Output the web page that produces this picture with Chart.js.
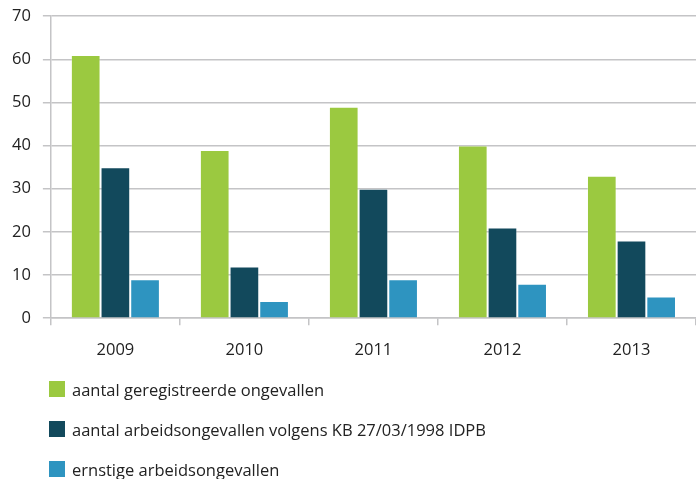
<!DOCTYPE html>
<html>
<head>
<meta charset="utf-8">
<script src="https://cdn.jsdelivr.net/npm/chart.js@4"></script>
<style>
  body { margin: 0; background: #fff; font-family: "Open Sans", sans-serif; }
  #wrap { position: relative; width: 696px; height: 375px; }
  #legend { margin: 0; padding: 0; list-style: none; position: absolute; left: 49px; top: 369px; }
  #legend li { height: 40px; display: flex; align-items: center; font-size: 16.5px; color: #222; }
  #legend span.box { display: inline-block; width: 16px; height: 16px; margin-right: 7px; }
</style>
</head>
<body>
<div id="wrap"><canvas id="chart"></canvas></div>
<ul id="legend"></ul>
<script>
const years = ["2009", "2010", "2011", "2012", "2013"];
const geregistreerd = [61, 39, 49, 40, 33];
const volgensKB = [35, 12, 30, 21, 18];
const ernstig = [9, 4, 9, 8, 5];
const yTicks = [0, 10, 20, 30, 40, 50, 60, 70];

const names = [
    "aantal geregistreerde ongevallen",
    "aantal arbeidsongevallen volgens KB 27/03/1998 IDPB",
    "ernstige arbeidsongevallen"
];
const colors = ["#9bc940", "#12495c", "#2e94c0"];
const series = [geregistreerd, volgensKB, ernstig];

const gridColor = "#c4c4c6";

const chart = new Chart(document.getElementById("chart"), {
    type: "bar",
    data: {
        labels: years,
        datasets: series.map((vals, i) => ({
            label: names[i],
            data: vals,
            backgroundColor: colors[i],
            borderColor: "rgba(255,255,255,0.25)",
            borderWidth: 1,
            barPercentage: 1,
            categoryPercentage: 0.69
        }))
    },
    options: {
        responsive: true,
        maintainAspectRatio: false,
        animation: false,
        layout: { padding: { top: 0, left: 0, right: 0, bottom: 0 } },
        plugins: {
            legend: { display: false },
            tooltip: { enabled: false }
        },
        scales: {
            x: {
                grid: {
                    offset: true,
                    drawOnChartArea: false,
                    drawTicks: true,
                    tickLength: 7,
                    color: gridColor,
                    lineWidth: 1.5
                },
                border: { color: gridColor, width: 1.5 },
                ticks: {
                    color: "#222",
                    padding: 15,
                    font: { family: "Open Sans", size: 16.5 }
                }
            },
            y: {
                min: 0,
                max: 70,
                afterBuildTicks: axis => {
                    axis.ticks = yTicks.map(v => ({ value: v }));
                },
                grid: {
                    color: gridColor,
                    lineWidth: 1.5,
                    tickLength: 8
                },
                border: { color: gridColor, width: 1.5 },
                ticks: {
                    color: "#222",
                    padding: 12,
                    font: { family: "Open Sans", size: 16.5, lineHeight: 0.5 }
                }
            }
        }
    }
});

const legend = document.getElementById("legend");
chart.data.datasets.forEach(ds => {
    const li = document.createElement("li");
    li.innerHTML = `<span class="box" style="background:${ds.backgroundColor}"></span>${ds.label}`;
    legend.appendChild(li);
});
</script>
</body>
</html>
